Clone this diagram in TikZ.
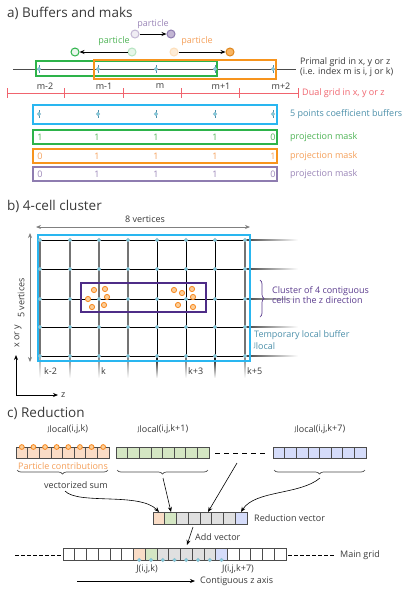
\documentclass[tikz,border=0pt]{standalone}
\usepackage{fontspec}
\setmainfont{Open Sans}
\usetikzlibrary{arrows.meta,decorations.pathreplacing,calc}
\definecolor{cgreen}{HTML}{2DB34A}
\definecolor{tgreen}{HTML}{4FB456}
\definecolor{corange}{HTML}{F7941D}
\definecolor{torange}{HTML}{F5A05A}
\definecolor{cpurple}{HTML}{8E7CB0}
\definecolor{tpurple}{HTML}{9B86B8}
\definecolor{cdpurple}{HTML}{4E2C87}
\definecolor{tdpurple}{HTML}{5C3D8F}
\definecolor{ccyan}{HTML}{29B6F0}
\definecolor{cred}{HTML}{F0646E}
\definecolor{csteel}{HTML}{4C90AA}
\definecolor{cdot}{HTML}{7FCCDD}
\definecolor{cpeach}{HTML}{F9DCC6}
\definecolor{clgreen}{HTML}{D4E6C3}
\definecolor{clblue}{HTML}{D5DCFA}
\definecolor{cgray}{HTML}{E0E0E0}
\definecolor{ctext}{HTML}{3A3A3A}
\tikzset{
  title/.style={font=\fontsize{13.5}{16}\selectfont, text=ctext, anchor=west, inner sep=0},
  lbl/.style={font=\fontsize{9}{10.5}\selectfont, text=ctext, inner sep=0},
  part/.style={circle, minimum size=8pt, inner sep=0, line width=1pt},
  pdot/.style={fill=cdot, draw=csteel!60, line width=0.3pt},
  arr/.style={-{Stealth[length=5pt,width=4pt]}, line width=0.8pt, black},
  garr/.style={{Stealth[length=5pt,width=4pt]}-{Stealth[length=5pt,width=4pt]}, line width=0.8pt, gray},
  cell/.style={draw=black!70, line width=0.6pt},
  brc/.style={decorate, decoration={brace, amplitude=4pt}, line width=0.7pt},
}
\begin{document}
\begin{tikzpicture}[x=1pt,y=-1pt]
\useasboundingbox (0,0) rectangle (407,592);
\fill[white] (0,0) rectangle (407,592);
% ---------------- a) ----------------
\node[title] (ta) at (7,13) {a) Buffers and maks};
% particles
\node[part, draw=tpurple!60, fill=tpurple!15] (pp1) at (135,34) {};
\node[part, draw=cpurple, fill=tpurple!60] (pp2) at (171,34) {};
\draw[arr] (pp1) -- (pp2);
\node[lbl, text=tpurple] (ptp) at (153,24) {particle};
\node[part, draw=cgreen, fill=cgreen!10] (pg1) at (75,52) {};
\node[part, draw=cgreen!35, fill=cgreen!12] (pg2) at (132,52) {};
\draw[arr] (pg2) -- (pg1);
\node[lbl, text=tgreen] (ptg) at (114,41) {particle};
\node[part, draw=corange!30, fill=corange!18] (po1) at (174,52) {};
\node[part, draw=corange!90!black, fill=corange!70] (po2) at (230,52) {};
\draw[arr] (po1) -- (po2);
\node[lbl, text=torange] (pto) at (197,41) {particle};
% primal grid
\coordinate (pl) at (13,69); \coordinate (pr) at (296,69);
\draw[black!70, line width=0.8pt] (pl) -- (pr);
\draw[cgreen, line width=1.2pt] (36,61) rectangle (217,76);
\draw[corange, line width=1.2pt] (94,60) rectangle (276,79);
\foreach \x in {39,98,156,215,273}{
  \draw[csteel, line width=0.6pt] (\x,65) -- (\x,73);
  \fill[pdot] (\x,69) circle (1.8);
}
\node[lbl, anchor=west] (prim1) at (300,62) {Primal grid in x, y or z};
\node[lbl, anchor=west] (prim2) at (300,72) {(i.e. index m is i, j or k)};
\node[lbl] (m1) at (45,86) {m-2};
\node[lbl] (m2) at (104,86) {m-1};
\node[lbl] (m3) at (160,86) {m};
\node[lbl] (m4) at (221,86) {m+1};
\node[lbl] (m5) at (281,86) {m+2};
% dual grid
\coordinate (dl) at (7,93); \coordinate (dr) at (298,93);
\draw[cred, line width=0.9pt] (dl) -- (dr);
\foreach \x in {7,64,123,181,239,298}{ \draw[cred, line width=0.9pt] (\x,88) -- (\x,98); }
\node[lbl, anchor=west, text=cred] (dual) at (302,93) {Dual grid in x, y or z};
% buffers
\draw[ccyan, line width=2pt] (33,105) rectangle (277,124);
\foreach \x in {39,98,156,215,273}{
  \draw[csteel, line width=0.6pt] (\x,110) -- (\x,118);
  \fill[pdot] (\x,114) circle (1.8);
}
\node[lbl, anchor=west, text=csteel] (buf) at (290,114) {5 points coefficient buffers};
\draw[cgreen, line width=1.3pt] (33,130) rectangle (277,144);
\draw[corange, line width=1.3pt] (33,149) rectangle (277,163);
\draw[cpurple, line width=1.3pt] (33,167) rectangle (277,181);
\foreach \x/\a/\b/\c [count=\i] in {40/1/0/0,97/1/1/1,156/1/1/1,215/1/1/1,273/0/1/0}{
  \node[lbl, text=tgreen] (mg\i) at (\x,137) {\a};
  \node[lbl, text=torange] (mo\i) at (\x,156) {\b};
  \node[lbl, text=tpurple] (mp\i) at (\x,174) {\c};
}
\node[lbl, anchor=west, text=tgreen] (pmg) at (290,137) {projection mask};
\node[lbl, anchor=west, text=torange] (pmo) at (290,156) {projection mask};
\node[lbl, anchor=west, text=tpurple] (pmp) at (290,174) {projection mask};
% ---------------- b) ----------------
\node[title] (tb) at (7,206) {b) 4-cell cluster};
\node[lbl] (v8) at (145,219) {8 vertices};
\coordinate (v8l) at (36,227); \coordinate (v8r) at (250,227);
\draw[garr] (v8l) -- (v8r);
\node[lbl, rotate=90] (v5) at (21,298) {5 vertices};
\coordinate (v5t) at (30,233); \coordinate (v5b) at (30,362);
\draw[garr] (v5t) -- (v5b);
% grid extensions (fading)
\foreach \y in {240,269,299,327,356}{
  \shade[left color=black!75, right color=white] (245,\y-0.45) rectangle (298,\y+0.45);
}
\foreach \x/\c in {40/black!35,70/gray,99/gray,128/gray,157/black,186/black!60,215/black,245/gray}{
  \shade[top color=\c, bottom color=white] (\x-0.7,356) rectangle (\x+0.7,378);
}
% grid
\foreach \x in {40,70,99,128,245}{ \draw[gray!90!black, line width=1.4pt] (\x,240) -- (\x,356); }
\foreach \x in {157,186,215}{ \draw[black, line width=0.8pt] (\x,240) -- (\x,356); }
\foreach \y in {240,269,299,327,356}{ \draw[black, line width=0.9pt] (40,\y) -- (245,\y); }
\draw[ccyan, line width=1.5pt] (38,235) rectangle (250,361);
\foreach \x in {40,70,99,128,157,186,215,245}{
  \foreach \y in {240,269,299,327,356}{ \fill[pdot] (\x,\y) circle (1.9); }
}
\draw[cdpurple, line width=1.1pt] (81,283) rectangle (206,312);
\foreach \p in {(94,290),(105,289),(88,299),(107,297),(92,307),(104,305),(174,290),(182,293),(192,289),(193,297),(178,305),(193,307)}{
  \draw[draw=corange!90!red, fill=corange!45, line width=0.8pt] \p circle (2.6);
}
\coordinate (bt) at (260,280); \coordinate (bb) at (260,317);
\draw[brc, tdpurple] (bt) -- (bb);
\node[lbl, anchor=west, text=tdpurple, align=left] (clu) at (272,295) {Cluster of 4 contiguous\\cells in the z direction};
\node[lbl, anchor=west, text=csteel, align=left] (tmp) at (254,340) {Temporary local buffer\\{\fontsize{6.5}{7}\selectfont J}\raisebox{-1.5pt}{local}};
\node[lbl, anchor=west] (k1) at (44,371) {k-2};
\node[lbl, anchor=west] (k2) at (101,371) {k};
\node[lbl, anchor=west] (k3) at (188,371) {k+3};
\node[lbl, anchor=west] (k4) at (247,371) {k+5};
% axes
\coordinate (ax0) at (16,395); \coordinate (axy) at (16,355); \coordinate (axz) at (58,395);
\draw[arr] (ax0) -- (axy);
\draw[arr] (ax0) -- (axz);
\node[lbl, rotate=90] (xy) at (18,336) {x or y};
\node[lbl, anchor=west] (zl) at (61,395) {z};
% ---------------- c) ----------------
\node[title] (tc) at (7,413) {c) Reduction};
\node[lbl] (jl1) at (68,429) {{\fontsize{6.5}{7}\selectfont J}\raisebox{-1.5pt}{local}(i,j,k)};
\node[lbl] (jl2) at (163,429) {{\fontsize{6.5}{7}\selectfont J}\raisebox{-1.5pt}{local}(i,j,k+1)};
\node[lbl] (jl3) at (320,429) {{\fontsize{6.5}{7}\selectfont J}\raisebox{-1.5pt}{local}(i,j,k+7)};
\foreach \i in {0,...,7}{
  \filldraw[cell, fill=cpeach] (16+\i*11.625,447) rectangle ++(11.625,11);
  \filldraw[cell, fill=clgreen] (116+\i*11.625,447) rectangle ++(11.625,11);
  \filldraw[cell, fill=clblue] (273+\i*11.625,447) rectangle ++(11.625,11);
}
\foreach \i in {0,...,7}{
  \draw[draw=corange!90!red, fill=corange!45, line width=0.8pt] (21.8+\i*11.625,447) circle (2.4);
}
\coordinate (dsl) at (215,453); \coordinate (dsr) at (267,453);
\draw[black, line width=0.8pt, dash pattern=on 5pt off 4pt] (dsl) -- (dsr);
\node[lbl, text=torange] (pc) at (63,466) {Particle contributions};
\coordinate (b1r) at (108,470); \coordinate (b1l) at (17,470);
\coordinate (b2r) at (208,470); \coordinate (b2l) at (117,470);
\coordinate (b3r) at (365,470); \coordinate (b3l) at (274,470);
\draw[brc, black!70] (b1r) -- (b1l);
\draw[brc, black!70] (b2r) -- (b2l);
\draw[brc, black!70] (b3r) -- (b3l);
\node[lbl] (vs) at (76,485) {vectorized sum};
% reduction vector
\foreach \i/\c in {0/cpeach,1/clgreen,2/cgray,3/cgray,4/cgray,5/cgray,6/cgray,7/clblue}{
  \filldraw[cell, fill=\c] (153+\i*11.75,512) rectangle ++(11.75,12);
}
\coordinate (r1) at (159,512); \coordinate (r2) at (171,512); \coordinate (r4) at (208,512); \coordinate (r8) at (241,512);
\node[lbl, anchor=west] (rv) at (254,518) {Reduction vector};
\coordinate (s1) at (65,491); \coordinate (s2) at (163,478); \coordinate (s3) at (237,463); \coordinate (s4) at (320,478);
\draw[arr, line width=0.6pt] (s1) .. controls (78,505) and (140,492) .. (r1);
\draw[arr, line width=0.6pt] (s2) -- (r2);
\draw[arr, line width=0.6pt] (s3) -- (r4);
\draw[arr, line width=0.6pt] (s4) .. controls (300,495) and (255,490) .. (r8);
% add vector
\coordinate (av1) at (193,527); \coordinate (av2) at (187,545);
\draw[arr, line width=0.6pt] (av1) -- (av2);
\node[lbl, anchor=west] (avl) at (195,537) {Add vector};
% main grid
\foreach \i/\cc in {0/white,1/white,2/white,3/white,4/white,5/white,6/cpeach,7/clgreen,8/cgray,9/cgray,10/cgray,11/cgray,12/cgray,13/clblue,14/white,15/white,16/white,17/white,18/white}{
  \filldraw[cell, fill=\cc] (63+\i*11.737,548) rectangle ++(11.737,12);
}
\foreach \i in {6,...,13}{ \fill[pdot] (63+\i*11.737+5.87,560) circle (1.9); }
\coordinate (mgl1) at (15,555); \coordinate (mgl2) at (62,555);
\coordinate (mgr1) at (288,555); \coordinate (mgr2) at (335,555);
\draw[black, line width=0.8pt, dash pattern=on 3.5pt off 2.5pt] (mgl1) -- (mgl2);
\draw[black, line width=0.8pt, dash pattern=on 3.5pt off 2.5pt] (mgr1) -- (mgr2);
\node[lbl, anchor=west] (mgt) at (340,555) {Main grid};
\node[lbl] (jk) at (147,569) {J(i,j,k)};
\node[lbl] (jk7) at (238,569) {J(i,j,k+7)};
\coordinate (cz1) at (77,581); \coordinate (cz2) at (195,581);
\draw[arr, line width=0.7pt] (cz1) -- (cz2);
\node[lbl, anchor=west] (czl) at (200,581) {Contiguous z axis};
\end{tikzpicture}
\end{document}
